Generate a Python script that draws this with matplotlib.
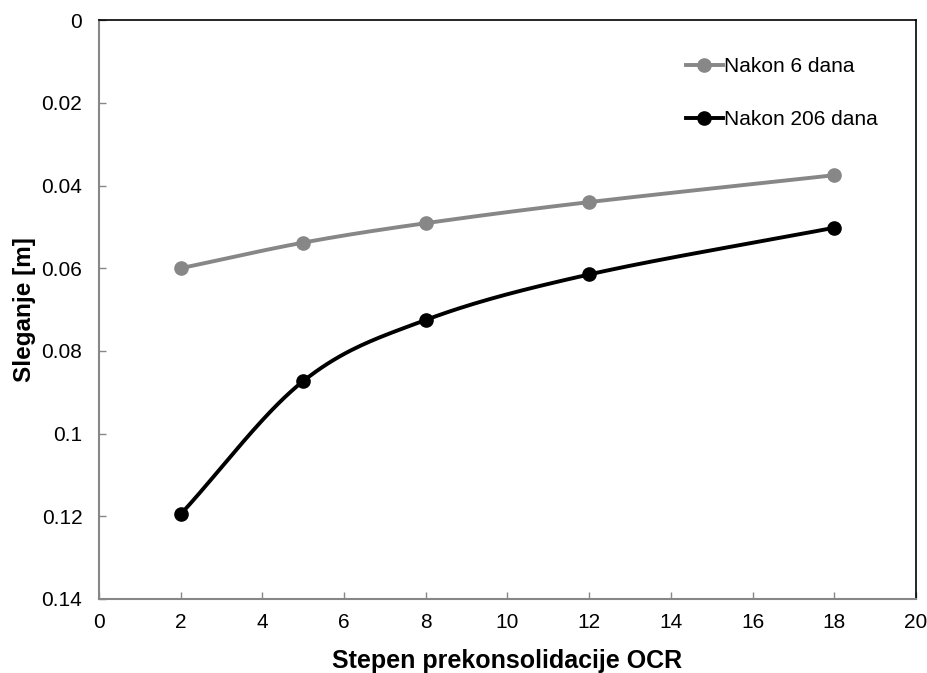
import numpy as np
import matplotlib.pyplot as plt

plt.rcParams['font.family'] = ['Liberation Sans', 'DejaVu Sans']

# data
ocr = [2, 5, 8, 12, 18]
settl_6 = [0.0600, 0.0538, 0.0491, 0.0440, 0.0375]
settl_206 = [0.1195, 0.0873, 0.0725, 0.0615, 0.0502]
series_names = ['Nakon 6 dana', 'Nakon 206 dana']
series_colors = ['#878787', '#000000']


def smooth(x, y, n=40):
    # Catmull-Rom style curve through the points (like Excel's smoothed line)
    x = np.asarray(x, float)
    y = np.asarray(y, float)
    px = np.concatenate([[2 * x[0] - x[1]], x, [2 * x[-1] - x[-2]]])
    py = np.concatenate([[2 * y[0] - y[1]], y, [2 * y[-1] - y[-2]]])
    xs, ys = [], []
    t = np.linspace(0, 1, n)
    for i in range(1, len(px) - 2):
        p0, p1, p2, p3 = px[i - 1], px[i], px[i + 1], px[i + 2]
        q0, q1, q2, q3 = py[i - 1], py[i], py[i + 1], py[i + 2]
        k = 1 / 6
        b1x, b1y = p1 + k * (p2 - p0), q1 + k * (q2 - q0)
        b2x, b2y = p2 - k * (p3 - p1), q2 - k * (q3 - q1)
        xs.append((1 - t) ** 3 * p1 + 3 * (1 - t) ** 2 * t * b1x + 3 * (1 - t) * t ** 2 * b2x + t ** 3 * p2)
        ys.append((1 - t) ** 3 * q1 + 3 * (1 - t) ** 2 * t * b1y + 3 * (1 - t) * t ** 2 * b2y + t ** 3 * q2)
    return np.concatenate(xs), np.concatenate(ys)


fig = plt.figure(figsize=(9.28, 6.73), dpi=100)
ax = fig.add_axes([0.1067, 0.110, 0.8803, 0.860])

for vals, name, col in zip([settl_6, settl_206], series_names, series_colors):
    sx, sy = smooth(ocr, vals)
    ax.plot(sx, sy, color=col, linewidth=2.8, zorder=2)
    ax.plot(ocr, vals, 'o', color=col, markersize=9.5, zorder=3)
    # legend proxy
    ax.plot([], [], '-o', color=col, linewidth=2.8, markersize=9.5, label=name)

ax.set_xlim(0, 20)
ax.set_ylim(0.14, 0)
ax.set_xticks(np.arange(0, 21, 2))
ax.set_yticks([0, 0.02, 0.04, 0.06, 0.08, 0.1, 0.12, 0.14])
ax.set_yticklabels(['0', '0.02', '0.04', '0.06', '0.08', '0.1', '0.12', '0.14'])
ax.tick_params(direction='in', length=5, width=1, colors='#878787',
               labelcolor='black', labelsize=15)
ax.tick_params(axis='x', pad=10)
ax.tick_params(axis='y', pad=12)

for s in ['left', 'bottom']:
    ax.spines[s].set_color('#878787')
    ax.spines[s].set_linewidth(1.5)
for s in ['top', 'right']:
    ax.spines[s].set_color('black')
    ax.spines[s].set_linewidth(1.2)

ax.set_xlabel('Stepen prekonsolidacije OCR', fontsize=18, fontweight='bold', labelpad=12)
ax.set_ylabel('Sleganje [m]', fontsize=17.5, fontweight='bold', labelpad=4)

ax.legend(loc='upper left', bbox_to_anchor=(0.695, 0.968), frameon=False,
          fontsize=15, handlelength=1.8, handletextpad=0.05, labelspacing=1.6)

fig.savefig('out.png', dpi=100)
